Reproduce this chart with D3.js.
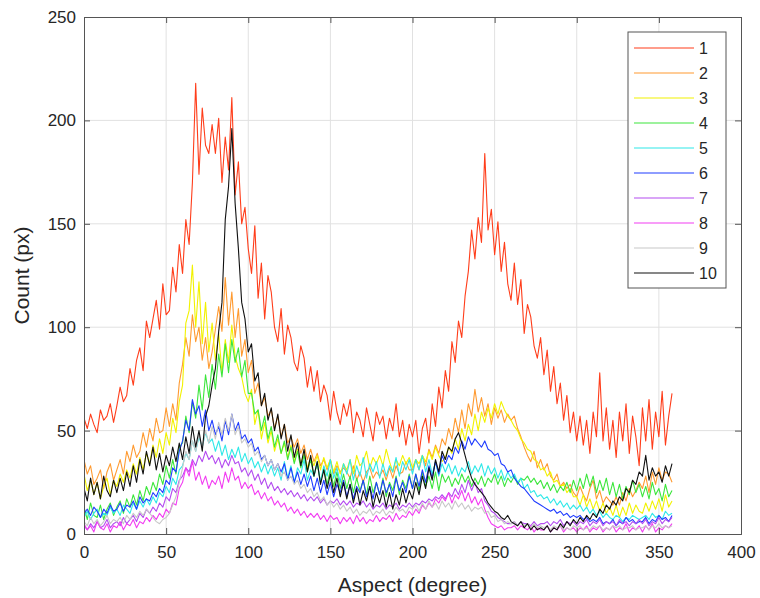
<!DOCTYPE html>
<html><head><meta charset="utf-8">
<script src="https://cdn.jsdelivr.net/npm/d3@7"></script>
<style>body{margin:0;background:#fff}svg{display:block}text{font-family:"Liberation Sans",Arial,sans-serif}</style>
</head><body><svg id="c" width="760" height="598"></svg>
<script>
// x positions: 0,2,4,...,358 degrees
const xStep = 2;
const xTicks = [0,50,100,150,200,250,300,350,400];
const yTicks = [0,50,100,150,200,250];
const seriesNames = ["1","2","3","4","5","6","7","8","9","10"];
const seriesColors = ["#ff3d1a","#ff9a30","#f2f200","#3ce63c","#2ee8e8","#1f3cff","#b44cf0","#f23cf2","#c8c8c8","#111111"];

const s1 = [56,51,58,53,49,60,55,57,63,54, 62,71,64,67,80,72,84,90,79,103, 95,104,113,99,121,106,108,129,117,140,
 126,152,140,170,218,174,206,188,184,198, 184,201,170,192,176,211,164,180,150,158, 138,126,149,114,131,104,125,117,100,93,
 109,87,101,95,83,79,91,85,71,81, 69,79,64,72,67,55,69,59,53,63, 57,65,49,59,55,47,61,53,45,59,
 53,57,46,56,50,63,47,55,43,53, 47,55,39,51,56,44,63,52,71,61, 79,69,93,83,103,95,115,127,147,133,
 153,141,184,147,157,135,151,127,141,121, 113,131,111,123,97,111,105,91,85,95, 77,89,69,81,63,73,55,67,49,59,
 45,57,43,55,39,59,47,78,45,61, 41,55,37,59,45,63,39,57,47,33, 61,45,65,41,59,47,69,43,57,68];
const s2 = [36,29,33,24,27,31,22,30,34,26, 31,36,29,40,35,43,37,40,49,42, 51,45,56,49,50,61,52,63,55,73,
 82,95,86,106,93,100,84,95,80,88, 99,110,98,124,101,117,95,109,86,94, 78,84,68,73,62,66,57,60,51,57,
 47,53,44,47,42,46,39,43,36,41, 35,39,33,36,31,36,29,33,30,32, 30,27,33,26,30,25,30,32,27,30,
 28,31,26,32,27,33,29,30,35,31, 31,36,31,38,33,41,37,43,39,46, 43,51,46,56,49,60,51,63,57,70,
 59,66,57,63,53,61,56,60,54,58, 55,57,51,47,42,38,35,40,32,36, 31,34,28,26,29,23,25,22,24,20,
 18,23,19,16,22,26,17,21,15,18, 16,14,18,14,20,16,22,18,21,25, 22,28,20,30,24,32,26,30,29,25];
const s3 = [29,21,26,19,25,17,23,27,19,26, 23,29,25,31,27,34,29,37,31,39, 34,43,37,46,39,49,43,56,49,64,
 72,102,108,130,100,122,92,112,88,102, 84,97,78,94,83,101,86,80,76,68, 64,70,53,60,46,54,44,50,40,46,
 39,44,37,43,35,41,34,39,32,37, 33,38,31,37,32,36,30,35,29,34, 31,36,29,38,33,35,40,32,37,34,
 38,33,41,35,30,36,33,38,34,37, 32,36,34,38,35,40,36,42,38,35, 37,42,39,46,41,51,45,53,48,58,
 50,59,54,61,56,63,58,64,60,57, 55,52,50,46,44,41,40,36,35,31, 32,28,30,25,26,23,24,20,22,18,
 18,14,19,13,17,12,16,11,15,10, 13,9,14,8,13,9,15,10,14,11, 10,15,11,16,12,17,11,19,13,16];
const s4 = [13,7,15,9,8,14,7,12,15,9, 13,16,10,17,13,19,14,21,16,23, 19,25,21,29,24,33,27,36,29,42,
 44,57,49,64,56,72,60,77,66,82, 70,87,76,92,78,94,83,90,76,84, 68,68,58,60,50,57,46,52,42,48,
 39,45,36,42,34,40,32,38,30,36, 28,34,25,32,24,31,23,30,22,29, 22,28,20,27,21,26,19,28,20,25,
 19,27,18,25,21,28,19,26,22,29, 22,29,21,30,23,28,22,30,21,29, 25,28,23,27,24,29,25,28,23,27,
 24,28,23,27,25,29,24,28,23,27, 25,28,24,27,26,28,25,27,24,26, 22,25,21,24,20,23,21,25,20,26,
 21,27,22,29,23,28,20,26,21,27, 19,25,18,24,17,23,19,26,20,24, 18,23,17,25,19,22,16,24,18,21];
const s5 = [8,11,7,10,12,8,10,9,13,10, 12,9,14,12,10,15,12,16,13,17, 14,18,15,20,18,23,20,27,24,31,
 33,39,36,45,40,47,42,49,44,46, 40,45,38,43,36,41,37,42,35,39, 34,37,32,35,30,34,29,33,28,32,
 26,35,27,33,25,32,29,36,26,31, 28,35,25,33,28,36,27,32,25,34, 29,36,26,33,28,37,27,34,30,35,
 27,34,28,33,30,37,28,35,31,36, 29,36,31,38,30,36,29,35,28,34, 30,34,29,33,28,32,30,35,29,33,
 30,34,28,33,29,32,27,31,26,30, 27,29,25,27,22,24,20,21,18,19, 17,18,15,17,14,16,13,15,12,14,
 12,14,11,13,10,12,9,11,8,10, 8,7,9,8,6,8,7,9,8,7, 8,9,7,10,8,9,7,11,9,10];
const s6 = [10,12,9,13,11,8,12,10,14,11, 12,15,11,14,13,16,12,18,15,17, 16,20,18,22,20,26,24,32,30,40,
 45,55,50,65,58,62,52,60,50,55, 48,52,45,55,48,58,50,54,46,48, 44,46,40,42,36,38,33,36,31,34,
 30,34,26,32,25,30,24,29,23,28, 21,27,20,26,19,25,18,24,20,26, 18,24,17,23,20,26,18,23,17,25,
 19,26,20,24,18,27,21,25,20,28, 22,29,23,31,25,33,27,35,29,38, 34,38,36,42,39,45,41,47,43,46,
 44,42,45,41,40,38,39,34,33,30, 31,27,25,23,22,20,18,16,15,14, 13,12,11,12,10,11,9,10,8,9,
 8,9,7,8,6,7,6,8,5,6, 5,7,4,6,5,8,6,7,5,6, 6,8,5,7,6,9,7,8,6,9];
const s7 = [4,2,5,3,6,3,4,7,3,5, 6,4,8,5,7,9,6,10,8,12, 10,13,11,15,13,18,16,22,20,26,
 28,32,30,36,33,38,35,40,36,38, 34,37,32,36,33,38,34,35,30,32, 28,31,26,29,24,27,22,25,21,23,
 20,22,19,21,18,20,17,19,16,18, 16,18,15,17,14,16,15,17,14,16, 14,16,13,15,14,16,13,15,12,14,
 13,15,12,14,13,15,12,14,13,15, 13,15,14,16,15,17,16,18,17,19, 17,20,18,22,19,24,20,26,21,25,
 20,22,16,14,11,10,8,7,6,5, 5,6,4,6,5,5,4,6,4,5, 5,6,4,6,5,7,4,6,5,6,
 4,6,5,7,4,6,5,7,4,6, 5,6,4,7,5,6,4,6,5,7, 5,7,4,6,5,8,5,7,6,8];
const s8 = [5,2,4,1,6,3,2,5,1,4, 3,6,2,5,4,7,3,6,5,8, 6,9,7,10,8,12,10,15,14,22,
 25,32,28,35,26,30,24,28,22,26, 24,28,22,30,25,32,26,28,22,25, 22,24,19,21,17,20,16,18,14,16,
 13,15,11,13,10,12,9,11,8,10, 8,10,7,9,6,9,7,8,5,8, 6,8,5,9,6,8,5,7,6,9,
 6,8,7,9,6,10,7,9,8,11, 9,12,10,14,12,15,13,17,15,18, 16,20,15,19,17,21,16,20,15,18,
 14,17,12,8,5,4,3,4,2,3, 3,4,2,4,3,2,4,1,3,2, 2,4,1,3,2,4,1,3,2,3,
 1,3,2,4,1,3,2,4,1,3, 2,4,1,3,2,5,1,3,2,4, 1,4,2,5,1,3,2,4,3,5];
const s9 = [6,4,8,5,7,4,6,9,5,7, 6,8,5,9,7,10,8,11,9,12, 10,8,6,5,7,8,10,14,18,25,
 32,40,36,45,40,48,42,50,44,52, 46,54,48,56,50,58,48,52,44,46, 42,44,38,40,35,38,33,36,31,34,
 28,30,26,28,24,26,22,24,20,22, 18,20,16,18,14,16,13,15,12,14, 11,13,10,12,9,11,10,12,9,11,
 10,12,9,11,10,13,11,12,10,13, 12,14,11,15,12,16,13,15,12,16, 13,15,12,16,13,15,12,14,11,13,
 12,13,10,11,8,9,6,7,5,6, 5,6,4,6,4,5,3,5,3,4, 3,4,2,4,3,4,2,3,2,4,
 3,4,2,3,2,4,3,4,2,3, 2,4,3,4,2,3,3,4,2,3, 3,4,2,4,3,5,3,4,3,4];
const s10 = [22,16,27,19,25,17,28,21,18,26, 20,27,21,30,23,33,25,36,29,40, 33,42,31,39,30,38,33,42,35,44,
 36,47,39,52,42,50,40,57,62,72, 80,98,112,152,168,196,160,138,112,104, 88,92,74,78,62,68,55,61,50,58,
 46,53,40,48,37,44,33,41,30,38, 28,35,24,31,22,29,20,27,18,25, 17,24,15,22,14,21,16,23,13,20,
 15,21,13,20,12,19,14,22,15,21, 17,25,19,28,22,32,26,36,30,40, 36,42,40,46,49,44,38,32,27,24,
 22,20,18,15,13,11,10,8,7,9, 6,5,4,6,3,5,2,4,2,3, 2,4,1,3,2,5,3,6,4,7,
 5,8,6,9,7,10,8,12,10,14, 12,16,14,18,16,22,20,26,24,30, 28,38,26,32,28,30,25,33,28,34];
const seriesValues = [s1,s2,s3,s4,s5,s6,s7,s8,s9,s10];

const svg = d3.select("#c");
const L = 84, R = 741, T = 17, B = 534;
const x = d3.scaleLinear().domain([0,400]).range([L,R]);
const y = d3.scaleLinear().domain([0,250]).range([B,T]);
const axisCol = "#555", textCol = "#262626";

// grid
svg.append("g").selectAll("line").data(xTicks.slice(1,-1)).join("line")
  .attr("x1",d=>x(d)).attr("x2",d=>x(d)).attr("y1",T).attr("y2",B)
  .attr("stroke","#e1e1e1").attr("stroke-width",1);
svg.append("g").selectAll("line").data(yTicks.slice(1,-1)).join("line")
  .attr("y1",d=>y(d)).attr("y2",d=>y(d)).attr("x1",L).attr("x2",R)
  .attr("stroke","#e1e1e1").attr("stroke-width",1);

// lines
svg.append("clipPath").attr("id","clip").append("rect").attr("x",L).attr("y",T).attr("width",R-L).attr("height",B-T);
const line = d3.line().x((d,i)=>x(i*xStep)).y(d=>y(d));
const lg = svg.append("g").attr("clip-path","url(#clip)");
seriesValues.forEach((vals,k)=>{
  lg.append("path").datum(vals).attr("d",line).attr("fill","none")
    .attr("stroke",seriesColors[k]).attr("stroke-width",1.1).attr("stroke-linejoin","round");
});

// axes (inner ticks, box)
const tk = 6;
const ax = svg.append("g").attr("transform",`translate(0,${B})`).call(d3.axisBottom(x).tickValues(xTicks).tickSize(-tk).tickPadding(12));
const axT = svg.append("g").attr("transform",`translate(0,${T})`).call(d3.axisTop(x).tickValues(xTicks).tickSize(-tk).tickFormat(""));
const ay = svg.append("g").attr("transform",`translate(${L},0)`).call(d3.axisLeft(y).tickValues(yTicks).tickSize(-tk).tickPadding(8));
const ayR = svg.append("g").attr("transform",`translate(${R},0)`).call(d3.axisRight(y).tickValues(yTicks).tickSize(-tk).tickFormat(""));
[ax,axT,ay,ayR].forEach(g=>{
  g.select(".domain").attr("stroke",axisCol);
  g.selectAll(".tick line").attr("stroke",axisCol);
  g.selectAll("text").attr("fill",textCol).style("font-size","17px").style("font-family","'Liberation Sans',Arial,sans-serif");
});

// axis titles
svg.append("text").attr("x",(L+R)/2).attr("y",592).attr("text-anchor","middle")
  .style("font-size","21px").attr("fill",textCol).text("Aspect (degree)");
svg.append("text").attr("transform",`translate(29,${(T+B)/2}) rotate(-90)`).attr("text-anchor","middle")
  .style("font-size","21px").attr("fill",textCol).text("Count (px)");

// legend
const lgX = 628, lgY = 32, lgW = 98, lgH = 256;
const leg = svg.append("g");
leg.append("rect").attr("x",lgX).attr("y",lgY).attr("width",lgW).attr("height",lgH)
  .attr("fill","#fff").attr("stroke",axisCol).attr("stroke-width",1);
seriesNames.forEach((n,i)=>{
  const yy = 48 + i*25;
  leg.append("line").attr("x1",634).attr("x2",694).attr("y1",yy).attr("y2",yy)
    .attr("stroke",seriesColors[i]).attr("stroke-width",1.1);
  leg.append("text").attr("x",699).attr("y",yy+6).style("font-size","16px").attr("fill",textCol).text(n);
});
</script></body></html>
